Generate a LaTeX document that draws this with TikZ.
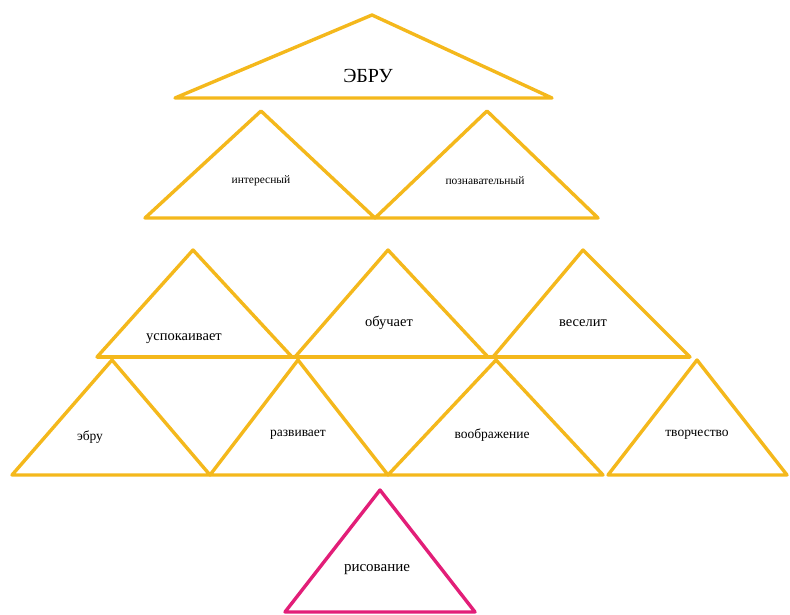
\documentclass[tikz,border=0pt]{standalone}
\usepackage{fontspec}
\setmainfont{Liberation Serif}
\definecolor{gold}{RGB}{244,184,28}
\definecolor{rose}{RGB}{226,30,120}
\begin{document}
\begin{tikzpicture}[x=1pt,y=-1pt,
  tri/.style={draw=gold,line width=3.4pt,line join=round},
  ptri/.style={draw=rose,line width=3.4pt,line join=round},
  big/.style={font=\fontsize{20}{22}\selectfont},
  small/.style={font=\fontsize{11.5}{13}\selectfont},
  mid/.style={font=\fontsize{14.5}{16}\selectfont},
  lab/.style={font=\fontsize{13.5}{15}\selectfont},
  plab/.style={font=\fontsize{15}{17}\selectfont}]
\useasboundingbox (0,0) rectangle (790,615);
% top
\draw[tri] (175,98) -- (372,15) -- (552,98) -- cycle;
\node[big] (t0) at (368,76) {ЭБРУ};
% row 2
\draw[tri] (145,218) -- (261,111) -- (375,218) -- cycle;
\draw[tri] (375,218) -- (487,111) -- (598,218) -- cycle;
\node[small] (t1) at (261,181) {интересный};
\node[small] (t2) at (485,181) {познавательный};
% row 3
\draw[tri] (97,357) -- (193,250) -- (292,357) -- cycle;
\draw[tri] (295,357) -- (388,250) -- (488,357) -- cycle;
\draw[tri] (493,357) -- (583,250) -- (690,357) -- cycle;
\draw[tri] (97,357) -- (690,357);
\node[mid] (t3) at (184,339) {успокаивает};
\node[mid] (t4) at (389,323) {обучает};
\node[mid] (t5) at (583,323) {веселит};
% row 4
\draw[tri] (12,475) -- (112,360) -- (210,475) -- cycle;
\draw[tri] (210,475) -- (298,360) -- (388,475) -- cycle;
\draw[tri] (388,475) -- (496,360) -- (603,475) -- cycle;
\draw[tri] (608,475) -- (697,360) -- (787,475) -- cycle;
\node[lab] (t6) at (90,437) {эбру};
\node[lab] (t7) at (298,435) {развивает};
\node[lab] (t8) at (492,435) {воображение};
\node[lab] (t9) at (697,435) {творчество};
% pink
\draw[ptri] (285,612) -- (380,490) -- (475,612) -- cycle;
\node[plab] (t10) at (377,570) {рисование};
\end{tikzpicture}
\end{document}
